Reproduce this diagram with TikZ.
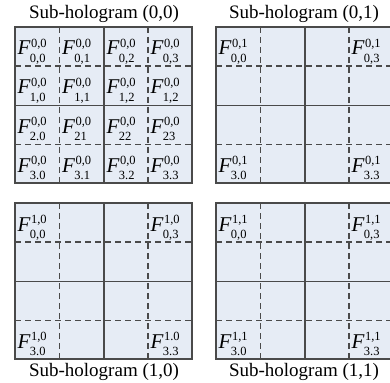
\documentclass[tikz,border=0pt]{standalone}
\usepackage{fontspec}
\setmainfont{Liberation Serif}
\definecolor{cellfill}{HTML}{E6ECF5}
\definecolor{gridline}{HTML}{4A4A4A}
\newcommand\Flab[2]{\textit{F}\kern0.4pt\rlap{\raisebox{7.5pt}{\fontsize{12.5}{12.5}\selectfont #1}}\kern-1.2pt\raisebox{-7.5pt}{\fontsize{12.5}{12.5}\selectfont #2}}
\tikzset{
  gridbox/.style={draw=gridline, line width=1.3pt, fill=cellfill},
  solidline/.style={draw=gridline, line width=1.1pt},
  dashline/.style={draw=gridline, line width=1.1pt, dash pattern=on 6pt off 4pt},
  flabel/.style={anchor=base west, inner sep=0pt, font=\fontsize{21}{21}\selectfont},
  title/.style={font=\fontsize{19}{19}\selectfont, inner sep=0pt}
}
\newcommand\subgrid[3]{% #1 name, #2 x0, #3 y0
  \begin{scope}[shift={(#2,#3)}]
    \path[gridbox] (0,0) rectangle (177,156);
    \draw[dashline] (44.5,0) -- (44.5,156);
    \draw[dashline] (133,0) -- (133,156);
    \draw[dashline] (0,39) -- (177,39);
    \draw[dashline] (0,117.5) -- (177,117.5);
    \draw[solidline] (89,0) -- (89,156);
    \draw[solidline] (0,78.5) -- (177,78.5);
    \path[gridbox, fill=none] (0,0) rectangle (177,156);
    \coordinate (#1c00) at (2.5,28);
    \coordinate (#1c01) at (47,28);
    \coordinate (#1c02) at (91.5,28);
    \coordinate (#1c03) at (135.5,28);
    \coordinate (#1c10) at (2.5,67);
    \coordinate (#1c11) at (47,67);
    \coordinate (#1c12) at (91.5,67);
    \coordinate (#1c13) at (135.5,67);
    \coordinate (#1c20) at (2.5,106.5);
    \coordinate (#1c21) at (47,106.5);
    \coordinate (#1c22) at (91.5,106.5);
    \coordinate (#1c23) at (135.5,106.5);
    \coordinate (#1c30) at (2.5,145);
    \coordinate (#1c31) at (47,145);
    \coordinate (#1c32) at (91.5,145);
    \coordinate (#1c33) at (135.5,145);
  \end{scope}}
\begin{document}
\begin{tikzpicture}[x=1pt,y=-1pt]
\useasboundingbox (0,0) rectangle (390,382);
\subgrid{a}{15}{27}
\subgrid{b}{216}{27}
\subgrid{c}{15}{203}
\subgrid{d}{216}{203}
% titles
\node[title] (ta) at (104,14) {Sub-hologram (0,0)};
\node[title] (tb) at (304,14) {Sub-hologram (0,1)};
\node[title] (tc) at (104,372) {Sub-hologram (1,0)};
\node[title] (td) at (304,372) {Sub-hologram (1,1)};
% grid (0,0)
\node[flabel] (a00) at (ac00) {\Flab{0,0}{0,0}};
\node[flabel] (a01) at (ac01) {\Flab{0,0}{0,1}};
\node[flabel] (a02) at (ac02) {\Flab{0,0}{0,2}};
\node[flabel] (a03) at (ac03) {\Flab{0,0}{0,3}};
\node[flabel] (a10) at (ac10) {\Flab{0,0}{1,0}};
\node[flabel] (a11) at (ac11) {\Flab{0,0}{1,1}};
\node[flabel] (a12) at (ac12) {\Flab{0,0}{1,2}};
\node[flabel] (a13) at (ac13) {\Flab{0,0}{1,2}};
\node[flabel] (a20) at (ac20) {\Flab{0,0}{2.0}};
\node[flabel] (a21) at (ac21) {\Flab{0,0}{21}};
\node[flabel] (a22) at (ac22) {\Flab{0,0}{22}};
\node[flabel] (a23) at (ac23) {\Flab{0,0}{23}};
\node[flabel] (a30) at (ac30) {\Flab{0,0}{3.0}};
\node[flabel] (a31) at (ac31) {\Flab{0,0}{3.1}};
\node[flabel] (a32) at (ac32) {\Flab{0,0}{3.2}};
\node[flabel] (a33) at (ac33) {\Flab{0,0}{3.3}};
% grid (0,1)
\node[flabel] (b00) at (bc00) {\Flab{0,1}{0,0}};
\node[flabel] (b03) at (bc03) {\Flab{0,1}{0,3}};
\node[flabel] (b30) at (bc30) {\Flab{0,1}{3.0}};
\node[flabel] (b33) at (bc33) {\Flab{0,1}{3.3}};
% grid (1,0)
\node[flabel] (c00) at (cc00) {\Flab{1,0}{0,0}};
\node[flabel] (c03) at (cc03) {\Flab{1,0}{0,3}};
\node[flabel] (c30) at (cc30) {\Flab{1,0}{3.0}};
\node[flabel] (c33) at (cc33) {\Flab{1.0}{3.3}};
% grid (1,1)
\node[flabel] (d00) at (dc00) {\Flab{1,1}{0,0}};
\node[flabel] (d03) at (dc03) {\Flab{1,1}{0,3}};
\node[flabel] (d30) at (dc30) {\Flab{1,1}{3.0}};
\node[flabel] (d33) at (dc33) {\Flab{1,1}{3.3}};
\end{tikzpicture}
\end{document}
